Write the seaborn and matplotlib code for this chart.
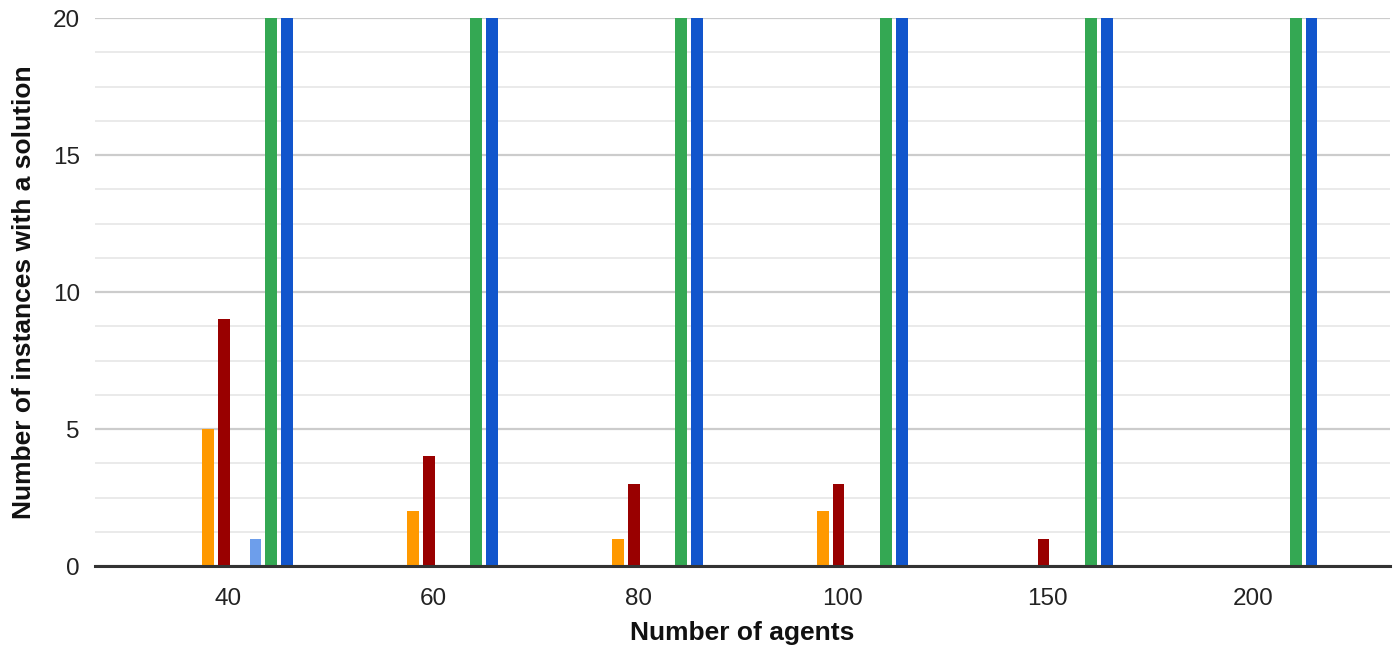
import numpy as np
import pandas as pd
import matplotlib
matplotlib.use("Agg")
import matplotlib.pyplot as plt
import seaborn as sns

# data
agents = ["40", "60", "80", "100", "150", "200"]
series = ["S1", "S2", "S3", "S4", "S5", "S6", "S7", "S8"]
s1 = [0, 0, 0, 0, 0, 0]
s2 = [0, 0, 0, 0, 0, 0]
s3 = [5, 2, 1, 2, 0, 0]
s4 = [9, 4, 3, 3, 1, 0]
s5 = [0, 0, 0, 0, 0, 0]
s6 = [1, 0, 0, 0, 0, 0]
s7 = [20, 20, 20, 20, 20, 20]
s8 = [20, 20, 20, 20, 20, 20]
colors = ["#e69138", "#cc4125", "#ff9900", "#990000",
          "#93a88a", "#6d9eeb", "#34a853", "#1155cc"]

rows = []
for name, vals in zip(series, [s1, s2, s3, s4, s5, s6, s7, s8]):
    for a, v in zip(agents, vals):
        rows.append({"agents": a, "series": name, "count": v})
df = pd.DataFrame(rows)

sns.set_style("white")
plt.rcParams['font.family'] = ['Liberation Sans', 'DejaVu Sans']

fig = plt.figure(figsize=(13.99, 6.57), dpi=100)
ax = fig.add_axes([0.068, 0.1385, 0.9256, 0.8341])

sns.barplot(data=df, x="agents", y="count", hue="series", order=agents,
            hue_order=series, palette=colors, width=0.617, gap=0.25,
            legend=False, ax=ax, linewidth=0, saturation=1)

# zero values show as a thin stub on the baseline; bars sit a bit right of the label
for p in ax.patches:
    p.set_x(p.get_x() + 0.017)
    if p.get_height() == 0:
        p.set_height(0.05)

ax.set_ylim(0, 20)
ax.set_xlim(-0.65, 5.67)
ax.set_yticks([0, 5, 10, 15, 20])
ax.set_yticks(np.arange(0, 20.01, 1.25), minor=True)
ax.grid(axis="y", which="major", color="#cccccc", linewidth=1.6, zorder=0)
ax.grid(axis="y", which="minor", color="#e6e6e6", linewidth=1.2, zorder=0)
ax.set_axisbelow(True)
for s in ["top", "right", "left"]:
    ax.spines[s].set_visible(False)
ax.spines["bottom"].set_color("#333333")
ax.spines["bottom"].set_linewidth(2.2)
ax.spines["bottom"].set_zorder(5)
ax.tick_params(axis="both", which="both", length=0, labelsize=17.5, colors="#222222")
ax.tick_params(axis="y", pad=11)
ax.tick_params(axis="x", pad=16)

ax.set_xlabel("Number of agents", fontsize=19, fontweight="bold", color="#111111", labelpad=8)
ax.set_ylabel("Number of instances with a solution", fontsize=19, fontweight="bold",
              color="#111111", labelpad=12)

fig.savefig("out.png", dpi=100)
